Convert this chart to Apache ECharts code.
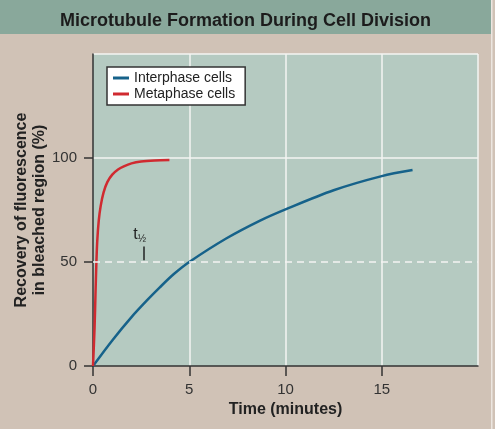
<!DOCTYPE html>
<html>
<head>
<meta charset="utf-8">
<script src="https://cdn.jsdelivr.net/npm/echarts@6/dist/echarts.min.js"></script>
<style>
  html, body { margin: 0; padding: 0; background: #d0c2b6; }
  #chart { width: 495px; height: 429px; }
</style>
</head>
<body>
<div id="chart"></div>
<script>
// values: [minutes, % recovery]
var interphase = [
  [0, 0], [1, 12.3], [2, 23.5], [2.8, 31.5], [3.47, 37.8], [4.2, 44.2], [5, 50],
  [6.94, 61.4], [8.68, 69.9], [10, 75.3], [12.5, 84.5], [15, 91.3], [16.6, 94.2]
];
var metaphase = [
  [0, 0], [0.08, 18], [0.13, 35], [0.17, 48], [0.22, 60], [0.3, 70], [0.4, 77],
  [0.55, 83.5], [0.75, 88.5], [1.0, 92], [1.3, 94.5], [1.6, 96], [2.0, 97.4],
  [2.5, 98.3], [3.2, 98.8], [3.97, 99]
];
var seriesNames = ['Interphase cells', 'Metaphase cells'];
var xTicks = [0, 5, 10, 15, 20];
var yTicks = [0, 50, 100, 150];
var halfLevel = 50;

var FONT = '"Liberation Sans", Arial, sans-serif';
var chart = echarts.init(document.getElementById('chart'), null, { renderer: 'canvas' });

var option = {
  backgroundColor: '#d0c2b6',
  animation: false,
  textStyle: { fontFamily: FONT },
  title: {
    text: 'Microtubule Formation During Cell Division',
    left: 55,
    top: 7,
    textStyle: { fontFamily: FONT, fontSize: 18, fontWeight: 'bold', color: '#1c1c1c' }
  },
  graphic: [
    { type: 'rect', z: -1, shape: { x: 0, y: 0, width: 491, height: 34 }, style: { fill: '#89a89b' } },
    { type: 'rect', z: -1, shape: { x: 491, y: 0, width: 1.5, height: 429 }, style: { fill: '#ece6e0' } }
  ],
  legend: {
    orient: 'vertical',
    left: 107,
    top: 67,
    backgroundColor: '#fff',
    borderColor: '#333',
    borderWidth: 1.5,
    padding: [4, 10, 4, 6],
    itemGap: 2,
    itemWidth: 16,
    itemHeight: 3,
    icon: 'rect',
    textStyle: { fontFamily: FONT, fontSize: 14, color: '#222', lineHeight: 14 },
    data: seriesNames
  },
  grid: {
    left: 93, right: 17, top: 54, bottom: 63,
    outerBoundsMode: 'none',
    containLabel: false,
    show: true, backgroundColor: '#b5cac1', borderWidth: 0
  },
  xAxis: {
    type: 'value',
    min: xTicks[0], max: xTicks[xTicks.length - 1], interval: 5,
    name: 'Time (minutes)',
    nameLocation: 'middle',
    nameGap: 36,
    nameMoveOverlap: false,
    nameTextStyle: { fontFamily: FONT, fontSize: 16, fontWeight: 'bold', color: '#222' },
    axisLine: { lineStyle: { color: '#333', width: 1.5 } },
    axisTick: { length: 10, lineStyle: { color: '#333', width: 1.5 } },
    axisLabel: { fontSize: 15, color: '#333', margin: 16, showMaxLabel: false },
    splitLine: { show: true, lineStyle: { color: ['rgba(0,0,0,0)', '#f4f4f2', '#f4f4f2', '#f4f4f2', '#f4f4f2'], width: 1.5 } }
  },
  yAxis: {
    type: 'value',
    min: yTicks[0], max: yTicks[yTicks.length - 1], interval: 50,
    name: 'Recovery of fluorescence\nin bleached region (%)',
    nameLocation: 'middle',
    nameGap: 44,
    nameMoveOverlap: false,
    nameTextStyle: { fontFamily: FONT, fontSize: 16, fontWeight: 'bold', color: '#222', lineHeight: 18 },
    axisLine: { show: true, lineStyle: { color: '#333', width: 1.5 } },
    axisTick: { show: true, length: 9, lineStyle: { color: '#333', width: 1.5 } },
    axisLabel: { fontSize: 15, color: '#333', margin: 16, showMaxLabel: false },
    splitLine: { show: true, lineStyle: { color: ['rgba(0,0,0,0)', 'rgba(0,0,0,0)', '#f4f4f2', '#f4f4f2'], width: 1.5 } }
  },
  series: [
    {
      name: seriesNames[0],
      type: 'line',
      data: interphase,
      smooth: 0.3,
      showSymbol: false,
      color: '#16628a',
      lineStyle: { width: 2.5, color: '#16628a' },
      z: 3,
      markLine: {
        silent: true,
        symbol: 'none',
        label: { show: false },
        data: [
          [{ coord: [0, halfLevel], lineStyle: { color: '#f4f4f2', width: 1.5, type: [7, 5] } },
           { coord: [20, halfLevel] }],
          [{ coord: [2.62, 50.8], lineStyle: { color: '#222', width: 1.5, type: 'solid' } },
           { coord: [2.62, 57.4] }]
        ]
      },
      markPoint: {
        silent: true,
        symbol: 'circle',
        symbolSize: 0,
        data: [{
          coord: [2.42, 63],
          label: {
            show: true,
            position: 'inside',
            formatter: '{t|t}{s|½}',
            rich: {
              t: { fontFamily: FONT, fontSize: 16, color: '#222' },
              s: { fontFamily: FONT, fontSize: 10, color: '#222', padding: [9, 0, 0, 0] }
            }
          }
        }]
      }
    },
    {
      name: seriesNames[1],
      type: 'line',
      data: metaphase,
      smooth: 0.3,
      showSymbol: false,
      color: '#d02a30',
      lineStyle: { width: 2.5, color: '#d02a30' },
      z: 4
    }
  ]
};

chart.setOption(option);
</script>
</body>
</html>
